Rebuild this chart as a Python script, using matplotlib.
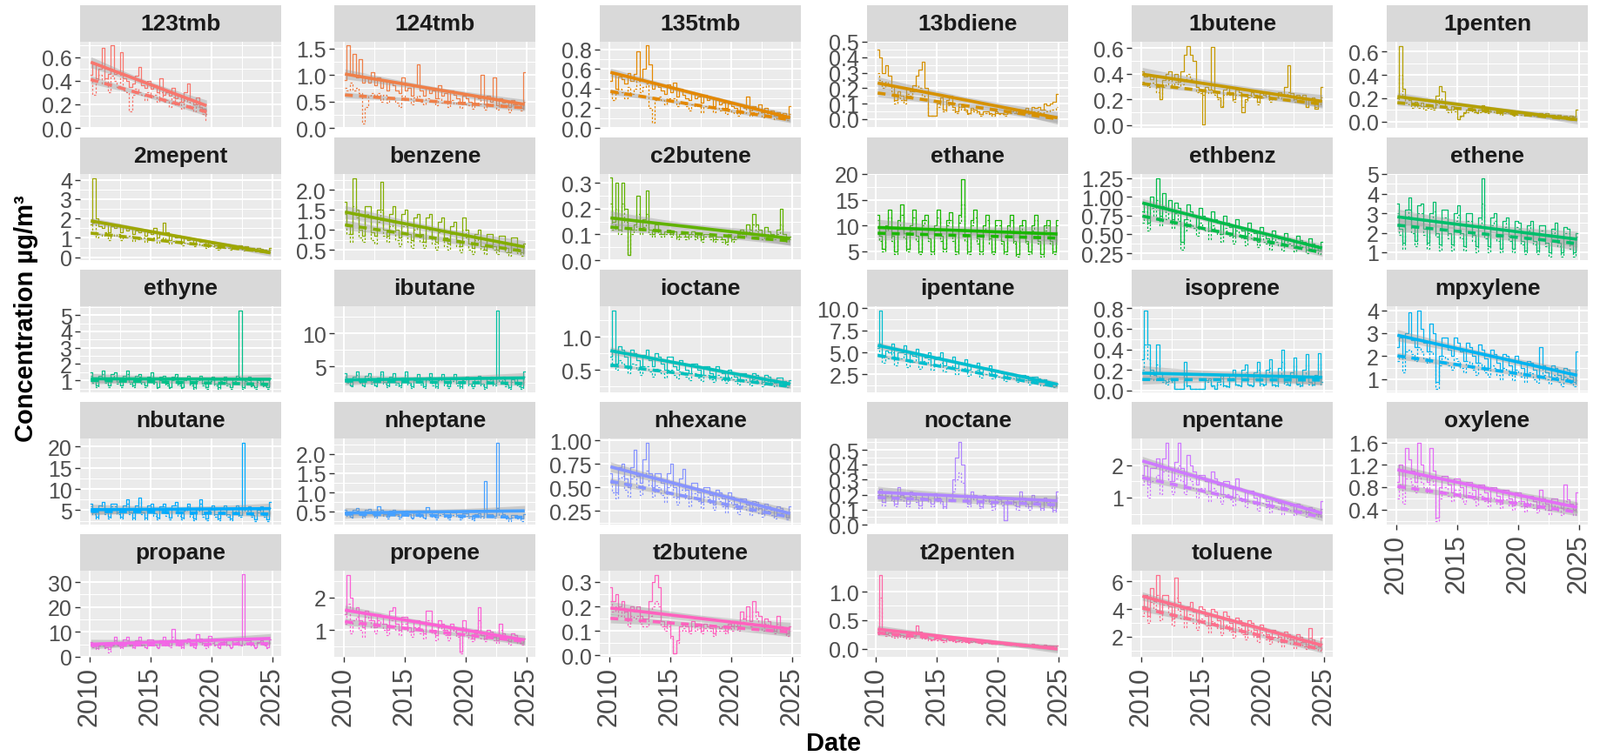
import numpy as np
import matplotlib
matplotlib.use("Agg")
import matplotlib.pyplot as plt

plt.rcParams['font.family'] = ['Liberation Sans', 'DejaVu Sans']

# quarterly values (solid = thin solid line, dashed = thin dashed line)
solid_123tmb = [0.45, 0.55, 0.42, 0.50, 0.68, 0.42, 0.46, 0.70, 0.46, 0.48, 0.64, 0.42, 0.40, 0.35, 0.38, 0.44, 0.52, 0.36, 0.34, 0.40,
                0.33, 0.36, 0.30, 0.42, 0.28, 0.30, 0.27, 0.34, 0.25, 0.28, 0.22, 0.30, 0.38, 0.24, 0.20, 0.26, 0.18, 0.16, 0.12]
dashed_123tmb = [0.42, 0.28, 0.40, 0.45, 0.38, 0.42, 0.30, 0.44, 0.40, 0.35, 0.45, 0.32, 0.30, 0.14, 0.28, 0.33, 0.30, 0.28, 0.24, 0.30,
                 0.26, 0.28, 0.22, 0.30, 0.22, 0.24, 0.18, 0.26, 0.20, 0.22, 0.16, 0.24, 0.22, 0.18, 0.14, 0.20, 0.15, 0.12, 0.07]

solid_124tmb = [0.90, 1.55, 1.00, 1.40, 0.95, 1.30, 0.85, 0.95, 0.85, 1.05, 0.80, 0.95, 0.75, 0.90, 0.70, 0.85, 0.80, 0.70, 0.65, 0.95,
                0.70, 0.75, 0.60, 0.80, 1.20, 0.70, 0.60, 0.75, 0.65, 0.70, 0.55, 0.80, 0.60, 0.65, 0.50, 0.70, 0.62, 0.55, 0.50, 0.60,
                0.55, 0.50, 0.45, 0.60, 0.55, 1.00, 0.45, 0.60, 0.50, 0.95, 0.42, 0.55, 0.48, 0.50, 0.40, 0.52, 0.45, 0.48, 0.38, 1.05]
dashed_124tmb = [0.75, 0.70, 0.85, 0.70, 0.75, 0.65, 0.08, 0.40, 0.60, 0.65, 0.60, 0.65, 0.50, 0.62, 0.48, 0.55, 0.55, 0.48, 0.40, 0.60,
                 0.52, 0.55, 0.45, 0.58, 0.60, 0.50, 0.44, 0.55, 0.50, 0.52, 0.42, 0.55, 0.48, 0.50, 0.40, 0.52, 0.46, 0.48, 0.38, 0.50,
                 0.45, 0.42, 0.36, 0.48, 0.44, 0.60, 0.35, 0.46, 0.42, 0.55, 0.34, 0.45, 0.40, 0.42, 0.30, 0.44, 0.38, 0.40, 0.32, 0.50]

solid_135tmb = [0.48, 0.55, 0.40, 0.52, 0.50, 0.45, 0.56, 0.48, 0.55, 0.78, 0.50, 0.60, 0.84, 0.65, 0.40, 0.45, 0.42, 0.38, 0.35, 0.44,
                0.36, 0.46, 0.32, 0.40, 0.34, 0.30, 0.28, 0.36, 0.30, 0.32, 0.26, 0.34, 0.28, 0.30, 0.22, 0.30, 0.24, 0.26, 0.20, 0.25,
                0.22, 0.20, 0.18, 0.24, 0.20, 0.32, 0.18, 0.22, 0.19, 0.24, 0.16, 0.20, 0.16, 0.18, 0.12, 0.16, 0.13, 0.15, 0.10, 0.22]
dashed_135tmb = [0.38, 0.28, 0.35, 0.40, 0.36, 0.30, 0.42, 0.35, 0.40, 0.48, 0.36, 0.42, 0.45, 0.20, 0.05, 0.28, 0.32, 0.28, 0.24, 0.30,
                 0.28, 0.30, 0.22, 0.26, 0.26, 0.22, 0.18, 0.24, 0.22, 0.24, 0.16, 0.22, 0.20, 0.22, 0.16, 0.20, 0.18, 0.20, 0.14, 0.18,
                 0.16, 0.15, 0.12, 0.18, 0.15, 0.20, 0.12, 0.16, 0.14, 0.16, 0.11, 0.15, 0.12, 0.14, 0.09, 0.12, 0.10, 0.11, 0.08, 0.14]

solid_13bdiene = [0.45, 0.40, 0.30, 0.35, 0.28, 0.22, 0.12, 0.18, 0.15, 0.12, 0.20, 0.18, 0.22, 0.28, 0.32, 0.37, 0.20, 0.02, 0.02, 0.02,
                  0.10, 0.14, 0.06, 0.12, 0.15, 0.08, 0.05, 0.10, 0.08, 0.06, 0.04, 0.07, 0.06, 0.05, 0.03, 0.05, 0.05, 0.04, 0.03, 0.05,
                  0.04, 0.04, 0.03, 0.05, 0.05, 0.06, 0.04, 0.06, 0.06, 0.07, 0.05, 0.08, 0.07, 0.08, 0.06, 0.10, 0.09, 0.10, 0.11, 0.16]
dashed_13bdiene = [0.30, 0.25, 0.20, 0.24, 0.22, 0.18, 0.10, 0.14, 0.12, 0.10, 0.16, 0.15, 0.18, 0.22, 0.20, 0.15, 0.12, 0.02, 0.02, 0.02,
                   0.08, 0.10, 0.05, 0.09, 0.10, 0.06, 0.04, 0.08, 0.06, 0.05, 0.03, 0.06, 0.05, 0.04, 0.02, 0.04, 0.04, 0.03, 0.02, 0.04,
                   0.03, 0.03, 0.02, 0.04, 0.04, 0.04, 0.03, 0.05, 0.04, 0.05, 0.03, 0.05, 0.05, 0.05, 0.04, 0.06, 0.05, 0.06, 0.06, 0.08]

solid_1butene = [0.42, 0.38, 0.40, 0.36, 0.38, 0.30, 0.20, 0.35, 0.40, 0.42, 0.36, 0.40, 0.34, 0.42, 0.55, 0.62, 0.55, 0.50, 0.30, 0.28,
                 0.01, 0.30, 0.28, 0.61, 0.26, 0.22, 0.14, 0.28, 0.30, 0.26, 0.20, 0.28, 0.26, 0.10, 0.20, 0.24, 0.26, 0.24, 0.18, 0.25,
                 0.24, 0.26, 0.20, 0.22, 0.22, 0.26, 0.24, 0.30, 0.47, 0.25, 0.20, 0.24, 0.22, 0.24, 0.14, 0.20, 0.22, 0.13, 0.18, 0.30]
dashed_1butene = [0.34, 0.32, 0.30, 0.33, 0.32, 0.26, 0.20, 0.30, 0.32, 0.35, 0.30, 0.34, 0.30, 0.32, 0.36, 0.40, 0.36, 0.34, 0.26, 0.25,
                  0.24, 0.26, 0.25, 0.28, 0.24, 0.20, 0.15, 0.24, 0.26, 0.24, 0.18, 0.24, 0.24, 0.14, 0.18, 0.22, 0.23, 0.22, 0.16, 0.22,
                  0.22, 0.23, 0.18, 0.20, 0.20, 0.22, 0.20, 0.24, 0.26, 0.22, 0.18, 0.21, 0.20, 0.21, 0.14, 0.18, 0.19, 0.14, 0.16, 0.22]

solid_1penten = [0.20, 0.65, 0.28, 0.20, 0.18, 0.15, 0.17, 0.14, 0.16, 0.13, 0.15, 0.14, 0.12, 0.22, 0.30, 0.26, 0.12, 0.10, 0.13, 0.11,
                 0.02, 0.05, 0.08, 0.10, 0.12, 0.10, 0.08, 0.10, 0.14, 0.10, 0.09, 0.11, 0.10, 0.08, 0.07, 0.09, 0.08, 0.09, 0.06, 0.08,
                 0.07, 0.08, 0.06, 0.07, 0.07, 0.06, 0.05, 0.07, 0.06, 0.07, 0.05, 0.06, 0.05, 0.06, 0.04, 0.05, 0.04, 0.05, 0.04, 0.10]
dashed_1penten = [0.17, 0.40, 0.22, 0.16, 0.15, 0.12, 0.14, 0.12, 0.13, 0.10, 0.12, 0.11, 0.10, 0.15, 0.20, 0.16, 0.10, 0.08, 0.10, 0.09,
                  0.02, 0.04, 0.07, 0.08, 0.10, 0.08, 0.07, 0.08, 0.11, 0.08, 0.07, 0.09, 0.08, 0.07, 0.06, 0.07, 0.07, 0.07, 0.05, 0.06,
                  0.06, 0.06, 0.05, 0.06, 0.06, 0.05, 0.04, 0.06, 0.05, 0.06, 0.04, 0.05, 0.04, 0.05, 0.03, 0.04, 0.03, 0.04, 0.03, 0.06]

solid_2mepent = [1.7, 4.1, 2.0, 1.6, 1.5, 1.8, 1.3, 1.6, 1.5, 1.7, 1.3, 1.6, 1.4, 1.5, 1.2, 1.4, 1.3, 1.4, 1.1, 1.3,
                 1.2, 1.5, 1.0, 1.2, 1.8, 1.3, 0.9, 1.1, 1.0, 1.1, 0.8, 1.0, 0.9, 0.95, 0.7, 0.9, 0.8, 0.85, 0.6, 0.8,
                 0.7, 0.6, 0.5, 0.7, 0.6, 0.65, 0.5, 0.6, 0.55, 0.6, 0.45, 0.55, 0.5, 0.5, 0.4, 0.5, 0.45, 0.4, 0.35, 0.5]
dashed_2mepent = [1.3, 1.8, 1.0, 1.2, 1.1, 1.3, 0.9, 1.2, 1.1, 1.2, 0.9, 1.1, 1.0, 1.1, 0.85, 1.0, 0.95, 1.0, 0.8, 0.95,
                  0.9, 1.0, 0.75, 0.9, 1.0, 0.9, 0.7, 0.85, 0.8, 0.85, 0.6, 0.75, 0.7, 0.75, 0.55, 0.7, 0.6, 0.65, 0.5, 0.6,
                  0.55, 0.5, 0.4, 0.55, 0.5, 0.5, 0.4, 0.5, 0.45, 0.5, 0.35, 0.45, 0.4, 0.4, 0.3, 0.4, 0.35, 0.35, 0.3, 0.4]

solid_benzene = [1.7, 1.1, 0.9, 2.3, 1.5, 1.0, 0.85, 1.6, 1.6, 0.95, 0.85, 1.5, 2.2, 1.0, 0.85, 1.4, 1.6, 1.0, 0.8, 1.4,
                 1.5, 0.9, 0.75, 1.3, 1.4, 0.9, 0.7, 1.3, 1.4, 0.8, 0.7, 1.2, 1.3, 0.8, 0.65, 1.1, 1.2, 0.75, 0.6, 1.3,
                 1.0, 0.65, 0.55, 0.9, 1.0, 0.6, 0.5, 0.9, 0.9, 0.6, 0.5, 0.85, 0.85, 0.55, 0.45, 0.8, 0.8, 0.5, 0.45, 0.65]
dashed_benzene = [1.4, 0.9, 0.7, 1.6, 1.3, 0.8, 0.7, 1.4, 1.3, 0.75, 0.65, 1.2, 1.5, 0.85, 0.7, 1.1, 1.2, 0.75, 0.6, 1.1,
                  1.1, 0.7, 0.55, 1.0, 1.1, 0.7, 0.55, 1.0, 1.0, 0.65, 0.5, 0.95, 1.0, 0.6, 0.5, 0.9, 0.95, 0.6, 0.45, 1.0,
                  0.8, 0.5, 0.4, 0.75, 0.8, 0.5, 0.4, 0.75, 0.75, 0.5, 0.4, 0.7, 0.7, 0.45, 0.35, 0.65, 0.65, 0.42, 0.35, 0.55]

solid_c2butene = [0.32, 0.15, 0.30, 0.12, 0.30, 0.20, 0.02, 0.12, 0.14, 0.25, 0.12, 0.16, 0.27, 0.12, 0.10, 0.14, 0.12, 0.10, 0.11, 0.12,
                  0.10, 0.11, 0.09, 0.10, 0.10, 0.09, 0.10, 0.11, 0.09, 0.10, 0.08, 0.10, 0.10, 0.09, 0.08, 0.09, 0.09, 0.08, 0.07, 0.10,
                  0.08, 0.09, 0.10, 0.12, 0.10, 0.14, 0.12, 0.18, 0.14, 0.12, 0.10, 0.13, 0.11, 0.10, 0.09, 0.12, 0.20, 0.10, 0.08, 0.09]
dashed_c2butene = [0.22, 0.12, 0.20, 0.10, 0.22, 0.15, 0.02, 0.10, 0.12, 0.18, 0.10, 0.13, 0.18, 0.10, 0.09, 0.12, 0.10, 0.09, 0.10, 0.10,
                   0.09, 0.10, 0.08, 0.09, 0.09, 0.08, 0.09, 0.10, 0.08, 0.09, 0.07, 0.09, 0.09, 0.08, 0.07, 0.08, 0.08, 0.07, 0.06, 0.09,
                   0.07, 0.08, 0.09, 0.10, 0.09, 0.11, 0.10, 0.14, 0.11, 0.10, 0.08, 0.10, 0.09, 0.08, 0.08, 0.10, 0.14, 0.08, 0.07, 0.08]

solid_ethane = [12, 8, 5.5, 10, 13, 8, 5, 11, 14, 8.5, 5.5, 10, 13, 8, 5, 11, 12, 7.5, 5, 10,
                13, 8, 5.5, 11, 12.5, 8, 5, 12, 19, 8, 5, 11, 13, 7.5, 5, 10, 12, 7.5, 5, 11,
                11, 7, 5, 10, 12, 7, 4.5, 10, 11, 7, 5, 10, 12, 7, 4.5, 10, 11, 7, 5, 11]
dashed_ethane = [11, 7, 5, 9, 11.5, 7, 4.5, 10, 12, 7.5, 5, 9, 11.5, 7, 4.5, 10, 11, 7, 4.5, 9,
                 11.5, 7, 5, 10, 11, 7, 4.5, 10.5, 14, 7, 4.5, 10, 11.5, 6.5, 4.5, 9, 11, 6.5, 4.5, 10,
                 10, 6.5, 4.5, 9, 11, 6.5, 4, 9, 10, 6.5, 4.5, 9, 11, 6.5, 4, 9, 10, 6.5, 4.5, 10]

solid_ethbenz = [0.80, 0.92, 0.65, 1.00, 0.88, 1.25, 0.75, 1.05, 0.85, 0.95, 0.70, 0.92, 0.85, 0.40, 0.70, 0.90, 0.80, 0.75, 0.60, 0.85,
                 0.75, 0.70, 0.55, 0.80, 0.70, 0.65, 0.50, 0.75, 0.65, 0.60, 0.48, 0.70, 0.60, 0.55, 0.45, 0.65, 0.55, 0.52, 0.40, 0.60,
                 0.50, 0.45, 0.38, 0.55, 0.48, 0.45, 0.35, 0.52, 0.45, 0.42, 0.33, 0.48, 0.42, 0.40, 0.30, 0.45, 0.38, 0.35, 0.28, 0.40]
dashed_ethbenz = [0.65, 0.80, 0.55, 0.85, 0.75, 0.95, 0.62, 0.88, 0.70, 0.82, 0.58, 0.78, 0.68, 0.30, 0.55, 0.70, 0.62, 0.58, 0.48, 0.66,
                  0.58, 0.55, 0.44, 0.62, 0.55, 0.50, 0.40, 0.58, 0.52, 0.48, 0.38, 0.55, 0.48, 0.45, 0.36, 0.52, 0.45, 0.42, 0.33, 0.48,
                  0.40, 0.38, 0.30, 0.45, 0.40, 0.36, 0.28, 0.42, 0.38, 0.35, 0.27, 0.40, 0.35, 0.33, 0.25, 0.37, 0.32, 0.30, 0.24, 0.34]

solid_ethene = [3.5, 2.2, 1.5, 3.2, 3.8, 2.3, 1.6, 3.4, 3.5, 2.2, 1.5, 3.0, 3.6, 2.0, 1.4, 3.2, 3.2, 2.0, 1.4, 3.0,
                3.4, 2.0, 1.3, 3.0, 3.0, 1.9, 1.3, 2.8, 4.8, 2.0, 1.3, 2.8, 3.0, 1.8, 1.2, 2.6, 2.8, 1.8, 1.2, 2.6,
                2.5, 1.6, 1.1, 2.4, 2.6, 1.6, 1.1, 2.4, 2.4, 1.5, 1.0, 2.2, 2.5, 1.5, 1.0, 2.3, 2.2, 1.4, 1.0, 2.0]
dashed_ethene = [3.0, 1.9, 1.2, 2.8, 3.2, 2.0, 1.3, 3.0, 3.0, 1.9, 1.2, 2.6, 3.1, 1.8, 1.1, 2.8, 2.8, 1.7, 1.1, 2.6,
                 2.9, 1.7, 1.1, 2.6, 2.6, 1.6, 1.0, 2.4, 3.5, 1.7, 1.0, 2.4, 2.6, 1.6, 1.0, 2.3, 2.5, 1.6, 1.0, 2.3,
                 2.2, 1.4, 0.9, 2.1, 2.3, 1.4, 0.9, 2.1, 2.1, 1.3, 0.8, 2.0, 2.2, 1.3, 0.8, 2.0, 2.0, 1.2, 0.8, 1.8]

solid_ethyne = [1.5, 1.0, 0.7, 1.3, 1.6, 1.0, 0.7, 1.4, 1.5, 0.9, 0.7, 1.3, 1.6, 0.9, 0.7, 1.3, 1.4, 0.9, 0.7, 1.2,
                1.5, 0.9, 0.6, 1.2, 1.3, 0.8, 0.6, 1.2, 1.4, 0.8, 0.6, 1.1, 1.3, 0.8, 0.6, 1.1, 1.3, 0.8, 0.6, 1.1,
                1.2, 0.8, 0.6, 1.1, 1.2, 0.8, 0.6, 1.1, 1.3, 5.3, 0.6, 1.1, 1.2, 0.7, 0.6, 1.0, 1.1, 0.7, 0.6, 1.1]
dashed_ethyne = [1.3, 0.85, 0.6, 1.1, 1.4, 0.85, 0.6, 1.2, 1.3, 0.8, 0.6, 1.1, 1.4, 0.8, 0.6, 1.1, 1.2, 0.8, 0.6, 1.0,
                 1.3, 0.8, 0.55, 1.0, 1.1, 0.7, 0.55, 1.0, 1.2, 0.7, 0.55, 1.0, 1.1, 0.7, 0.5, 0.95, 1.1, 0.7, 0.5, 0.95,
                 1.0, 0.7, 0.5, 0.95, 1.0, 0.7, 0.5, 0.95, 1.1, 1.2, 0.5, 0.95, 1.0, 0.65, 0.5, 0.9, 0.95, 0.65, 0.5, 0.95]

solid_ibutane = [4.0, 2.8, 2.2, 3.5, 4.2, 2.8, 2.2, 3.6, 4.0, 2.7, 2.2, 3.4, 4.3, 2.7, 2.1, 3.5, 4.0, 2.6, 2.1, 3.3,
                 4.2, 2.6, 2.0, 3.4, 3.8, 2.6, 2.0, 3.4, 4.0, 2.5, 2.0, 3.3, 3.8, 2.5, 2.0, 3.2, 3.8, 2.5, 2.0, 3.3,
                 3.5, 2.4, 2.0, 3.2, 3.6, 2.4, 1.9, 3.2, 3.5, 2.4, 13.5, 3.2, 3.5, 2.3, 1.9, 3.1, 3.4, 2.3, 1.9, 4.2]
dashed_ibutane = [3.5, 2.5, 2.0, 3.1, 3.7, 2.5, 2.0, 3.2, 3.5, 2.4, 2.0, 3.0, 3.8, 2.4, 1.9, 3.1, 3.5, 2.3, 1.9, 2.9,
                  3.7, 2.3, 1.8, 3.0, 3.4, 2.3, 1.8, 3.0, 3.5, 2.2, 1.8, 2.9, 3.4, 2.2, 1.8, 2.8, 3.4, 2.2, 1.8, 2.9,
                  3.1, 2.1, 1.8, 2.8, 3.2, 2.1, 1.7, 2.8, 3.1, 2.1, 3.5, 2.8, 3.1, 2.0, 1.7, 2.7, 3.0, 2.0, 1.7, 3.5]

solid_ioctane = [0.7, 1.4, 0.6, 0.85, 0.8, 0.7, 0.55, 0.8, 0.75, 0.65, 0.55, 0.72, 0.8, 0.65, 0.55, 0.75, 0.7, 0.6, 0.5, 0.7,
                 0.7, 0.55, 0.5, 0.65, 0.6, 0.5, 0.45, 0.6, 0.6, 0.5, 0.42, 0.55, 0.55, 0.45, 0.4, 0.55, 0.5, 0.45, 0.38, 0.5,
                 0.45, 0.4, 0.35, 0.45, 0.45, 0.4, 0.33, 0.45, 0.42, 0.38, 0.32, 0.42, 0.4, 0.35, 0.3, 0.38, 0.38, 0.33, 0.28, 0.35]
dashed_ioctane = [0.55, 0.8, 0.5, 0.65, 0.6, 0.55, 0.45, 0.6, 0.58, 0.5, 0.42, 0.55, 0.55, 0.48, 0.4, 0.52, 0.5, 0.45, 0.38, 0.5,
                  0.5, 0.42, 0.37, 0.48, 0.45, 0.4, 0.35, 0.45, 0.45, 0.38, 0.33, 0.42, 0.42, 0.36, 0.32, 0.42, 0.4, 0.35, 0.3, 0.4,
                  0.36, 0.33, 0.28, 0.36, 0.36, 0.32, 0.27, 0.36, 0.34, 0.3, 0.26, 0.34, 0.33, 0.29, 0.25, 0.32, 0.31, 0.28, 0.24, 0.3]

solid_ipentane = [5.5, 9.8, 4.5, 5.2, 5.0, 6.0, 4.2, 5.0, 5.0, 5.8, 4.0, 4.8, 4.6, 5.4, 3.8, 4.8, 4.4, 5.0, 3.6, 4.2,
                  4.5, 5.0, 3.5, 4.2, 4.0, 4.5, 3.2, 3.8, 3.8, 4.2, 3.0, 3.5, 3.5, 3.8, 2.7, 3.2, 3.2, 3.5, 2.5, 3.0,
                  2.8, 2.6, 2.2, 2.6, 2.6, 2.5, 2.0, 2.4, 2.4, 2.3, 1.8, 2.2, 2.2, 2.0, 1.6, 1.9, 1.6, 1.5, 1.2, 1.5]
dashed_ipentane = [4.8, 6.0, 3.8, 4.5, 4.3, 5.0, 3.5, 4.2, 4.3, 4.8, 3.3, 3.9, 3.9, 4.5, 3.1, 4.0, 3.7, 4.2, 3.0, 3.5,
                   3.5, 3.8, 2.8, 3.3, 3.1, 3.5, 2.5, 3.0, 3.0, 3.2, 2.3, 2.8, 2.8, 3.0, 2.1, 2.5, 2.5, 2.8, 2.0, 2.4,
                   2.2, 2.1, 1.7, 2.1, 2.1, 2.0, 1.6, 1.9, 1.9, 1.8, 1.4, 1.8, 1.7, 1.6, 1.3, 1.5, 1.5, 1.4, 1.1, 1.3]

solid_isoprene = [0.30, 0.78, 0.45, 0.20, 0.15, 0.45, 0.18, 0.10, 0.08, 0.12, 0.10, 0.02, 0.02, 0.02, 0.28, 0.05, 0.02, 0.02, 0.02, 0.02,
                  0.02, 0.10, 0.12, 0.05, 0.02, 0.08, 0.15, 0.05, 0.04, 0.15, 0.20, 0.06, 0.05, 0.20, 0.25, 0.06, 0.05, 0.18, 0.28, 0.07,
                  0.06, 0.20, 0.30, 0.06, 0.05, 0.22, 0.40, 0.08, 0.06, 0.18, 0.32, 0.07, 0.05, 0.20, 0.35, 0.08, 0.06, 0.15, 0.36, 0.08]
dashed_isoprene = [0.20, 0.45, 0.30, 0.12, 0.10, 0.25, 0.12, 0.08, 0.06, 0.09, 0.08, 0.02, 0.02, 0.02, 0.15, 0.04, 0.02, 0.02, 0.02, 0.02,
                   0.02, 0.08, 0.10, 0.04, 0.02, 0.06, 0.12, 0.04, 0.03, 0.10, 0.15, 0.05, 0.04, 0.14, 0.18, 0.05, 0.04, 0.12, 0.20, 0.05,
                   0.05, 0.14, 0.22, 0.05, 0.04, 0.15, 0.28, 0.06, 0.05, 0.13, 0.24, 0.06, 0.04, 0.14, 0.25, 0.06, 0.05, 0.11, 0.26, 0.06]

solid_mpxylene = [2.4, 2.8, 2.0, 3.0, 3.9, 2.7, 2.4, 4.0, 3.2, 2.6, 2.2, 3.4, 3.0, 0.9, 2.0, 2.8, 2.8, 2.3, 2.0, 2.8,
                  2.6, 2.2, 1.8, 2.6, 2.4, 2.0, 1.7, 2.5, 2.3, 1.9, 1.5, 2.3, 2.1, 1.7, 1.4, 2.1, 2.0, 1.6, 1.3, 2.0,
                  1.8, 1.5, 1.2, 1.8, 1.7, 1.4, 1.1, 2.4, 1.6, 1.3, 1.1, 1.6, 1.5, 1.2, 1.0, 1.5, 1.4, 1.1, 0.9, 2.2]
dashed_mpxylene = [1.8, 2.0, 1.3, 2.2, 2.3, 2.1, 1.8, 2.4, 2.2, 1.9, 1.7, 2.2, 2.1, 0.6, 1.6, 2.0, 1.9, 1.6, 1.4, 1.9,
                   1.8, 1.5, 1.3, 1.8, 1.7, 1.4, 1.2, 1.7, 1.6, 1.3, 1.1, 1.6, 1.5, 1.2, 1.0, 1.5, 1.4, 1.2, 0.95, 1.4,
                   1.3, 1.1, 0.9, 1.3, 1.25, 1.0, 0.85, 1.5, 1.2, 1.0, 0.8, 1.2, 1.1, 0.9, 0.7, 1.1, 1.05, 0.85, 0.7, 1.4]

solid_nbutane = [6.5, 4.5, 3.5, 6.0, 7.0, 4.5, 3.5, 6.5, 6.5, 4.5, 3.5, 6.0, 7.5, 4.5, 3.3, 6.0, 8.0, 4.5, 3.3, 6.0,
                 6.5, 4.2, 3.2, 5.8, 6.5, 4.2, 3.2, 6.0, 7.0, 4.2, 3.2, 5.5, 6.5, 4.0, 3.0, 5.5, 7.5, 4.0, 3.0, 5.5,
                 6.0, 4.0, 3.0, 5.2, 6.0, 4.0, 3.0, 5.2, 6.0, 3.8, 21.0, 5.5, 5.8, 3.8, 2.8, 5.0, 5.8, 3.8, 2.8, 7.0]
dashed_nbutane = [5.8, 4.0, 3.0, 5.3, 6.2, 4.0, 3.0, 5.8, 5.8, 4.0, 3.0, 5.3, 6.5, 4.0, 2.9, 5.3, 7.0, 4.0, 2.9, 5.3,
                  5.8, 3.7, 2.8, 5.1, 5.8, 3.7, 2.8, 5.3, 6.2, 3.7, 2.8, 4.9, 5.8, 3.5, 2.6, 4.9, 6.5, 3.5, 2.6, 4.9,
                  5.3, 3.5, 2.6, 4.6, 5.3, 3.5, 2.6, 4.6, 5.3, 3.4, 6.0, 4.9, 5.1, 3.4, 2.5, 4.4, 5.1, 3.4, 2.5, 5.5]

solid_nheptane = [0.55, 0.45, 0.38, 0.55, 0.60, 0.48, 0.40, 0.55, 0.58, 0.50, 0.40, 0.65, 0.55, 0.45, 0.38, 0.52, 0.55, 0.45, 0.38, 0.50,
                  0.52, 0.45, 0.36, 0.50, 0.52, 0.42, 0.36, 0.62, 0.50, 0.42, 0.35, 0.48, 0.50, 0.42, 0.35, 0.48, 0.48, 0.42, 0.34, 0.46,
                  0.46, 0.40, 0.33, 0.45, 0.46, 0.40, 1.30, 0.45, 0.45, 0.40, 2.30, 0.50, 0.44, 0.38, 0.32, 0.42, 0.42, 0.38, 0.32, 0.44]
dashed_nheptane = [0.48, 0.40, 0.34, 0.48, 0.52, 0.42, 0.35, 0.48, 0.50, 0.44, 0.35, 0.55, 0.48, 0.40, 0.33, 0.46, 0.48, 0.40, 0.33, 0.44,
                   0.46, 0.40, 0.32, 0.44, 0.46, 0.37, 0.32, 0.52, 0.44, 0.37, 0.31, 0.42, 0.44, 0.37, 0.31, 0.42, 0.42, 0.37, 0.30, 0.41,
                   0.40, 0.35, 0.28, 0.40, 0.40, 0.35, 0.50, 0.40, 0.40, 0.35, 0.60, 0.42, 0.38, 0.33, 0.27, 0.36, 0.37, 0.33, 0.27, 0.38]

solid_nhexane = [0.65, 0.55, 0.45, 0.72, 0.75, 0.60, 0.50, 0.72, 0.90, 0.62, 0.55, 0.80, 0.98, 0.65, 0.50, 0.65, 0.65, 0.55, 0.45, 0.65,
                 0.75, 0.50, 0.40, 0.60, 0.70, 0.48, 0.38, 0.55, 0.55, 0.45, 0.35, 0.50, 0.50, 0.42, 0.32, 0.48, 0.45, 0.38, 0.30, 0.45,
                 0.40, 0.33, 0.27, 0.38, 0.38, 0.32, 0.25, 0.36, 0.35, 0.28, 0.23, 0.33, 0.30, 0.26, 0.20, 0.30, 0.28, 0.24, 0.18, 0.30]
dashed_nhexane = [0.55, 0.45, 0.38, 0.60, 0.62, 0.48, 0.40, 0.60, 0.65, 0.50, 0.42, 0.62, 0.68, 0.52, 0.40, 0.52, 0.50, 0.42, 0.35, 0.50,
                  0.55, 0.40, 0.32, 0.48, 0.52, 0.38, 0.30, 0.44, 0.44, 0.36, 0.28, 0.40, 0.40, 0.34, 0.26, 0.38, 0.36, 0.30, 0.24, 0.36,
                  0.32, 0.27, 0.22, 0.31, 0.30, 0.26, 0.21, 0.29, 0.28, 0.23, 0.19, 0.27, 0.25, 0.21, 0.17, 0.25, 0.23, 0.20, 0.16, 0.24]

solid_noctane = [0.20, 0.24, 0.15, 0.22, 0.22, 0.18, 0.14, 0.25, 0.20, 0.18, 0.14, 0.22, 0.20, 0.17, 0.13, 0.20, 0.20, 0.17, 0.14, 0.21,
                 0.18, 0.16, 0.12, 0.20, 0.19, 0.30, 0.45, 0.55, 0.40, 0.20, 0.14, 0.22, 0.20, 0.16, 0.12, 0.20, 0.18, 0.16, 0.12, 0.19,
                 0.17, 0.15, 0.03, 0.18, 0.18, 0.15, 0.12, 0.22, 0.18, 0.14, 0.12, 0.20, 0.17, 0.14, 0.11, 0.18, 0.17, 0.13, 0.10, 0.22]
dashed_noctane = [0.18, 0.20, 0.13, 0.19, 0.19, 0.16, 0.12, 0.21, 0.17, 0.16, 0.12, 0.19, 0.17, 0.15, 0.11, 0.18, 0.17, 0.15, 0.12, 0.18,
                  0.16, 0.14, 0.11, 0.17, 0.16, 0.22, 0.30, 0.35, 0.28, 0.17, 0.12, 0.19, 0.17, 0.14, 0.11, 0.17, 0.16, 0.14, 0.10, 0.16,
                  0.15, 0.13, 0.03, 0.16, 0.15, 0.13, 0.10, 0.18, 0.15, 0.12, 0.10, 0.17, 0.15, 0.12, 0.10, 0.16, 0.14, 0.11, 0.09, 0.18]

solid_npentane = [1.7, 2.0, 1.4, 1.9, 1.9, 2.2, 1.5, 2.2, 2.7, 1.9, 1.5, 2.1, 2.7, 1.9, 1.4, 2.3, 2.0, 1.8, 1.4, 1.7,
                  1.7, 1.5, 1.2, 1.8, 1.6, 1.4, 1.1, 1.5, 1.5, 1.3, 1.0, 1.6, 1.3, 1.2, 0.9, 1.2, 1.2, 1.0, 0.8, 1.1,
                  1.0, 0.9, 0.75, 0.95, 0.9, 0.85, 0.7, 0.85, 0.85, 0.75, 0.6, 0.8, 0.75, 0.7, 0.55, 0.7, 0.65, 0.6, 0.5, 0.9]
dashed_npentane = [1.4, 1.6, 1.0, 1.5, 1.5, 1.7, 1.1, 1.8, 1.9, 1.5, 1.1, 1.6, 2.0, 1.5, 1.1, 1.7, 1.5, 1.3, 1.0, 1.3,
                   1.3, 1.1, 0.9, 1.3, 1.2, 1.0, 0.8, 1.1, 1.1, 0.95, 0.75, 1.1, 1.0, 0.9, 0.7, 0.9, 0.9, 0.8, 0.6, 0.85,
                   0.8, 0.7, 0.55, 0.75, 0.7, 0.65, 0.5, 0.7, 0.65, 0.6, 0.45, 0.6, 0.6, 0.55, 0.42, 0.55, 0.5, 0.48, 0.4, 0.65]

solid_oxylene = [0.9, 1.2, 0.8, 1.5, 1.3, 1.1, 0.9, 1.6, 1.2, 1.0, 0.9, 1.5, 1.1, 0.25, 0.8, 1.0, 1.0, 0.85, 0.7, 0.95,
                 0.95, 0.8, 0.65, 0.9, 0.9, 0.75, 0.6, 0.85, 0.85, 0.7, 0.55, 0.8, 0.8, 0.65, 0.5, 0.75, 0.75, 0.6, 0.48, 0.7,
                 0.7, 0.55, 0.45, 0.65, 0.65, 0.55, 0.42, 0.75, 0.6, 0.5, 0.4, 0.6, 0.6, 0.52, 0.42, 0.85, 0.58, 0.5, 0.4, 0.7]
dashed_oxylene = [0.6, 0.85, 0.5, 0.95, 0.95, 0.85, 0.7, 1.0, 0.9, 0.8, 0.7, 0.95, 0.85, 0.2, 0.6, 0.8, 0.8, 0.65, 0.55, 0.75,
                  0.75, 0.6, 0.5, 0.7, 0.7, 0.58, 0.48, 0.68, 0.65, 0.55, 0.45, 0.62, 0.6, 0.5, 0.42, 0.58, 0.58, 0.48, 0.4, 0.55,
                  0.55, 0.45, 0.36, 0.52, 0.5, 0.42, 0.35, 0.55, 0.48, 0.4, 0.32, 0.48, 0.45, 0.38, 0.3, 0.55, 0.42, 0.36, 0.3, 0.5]

solid_propane = [6.0, 4.5, 3.5, 5.5, 5.5, 4.0, 3.0, 5.0, 8.0, 5.0, 4.0, 7.0, 8.0, 5.0, 4.0, 6.5, 8.0, 5.0, 4.0, 7.0,
                 7.0, 5.0, 4.0, 6.5, 8.0, 5.5, 4.5, 11.0, 7.0, 5.0, 4.0, 6.5, 7.5, 5.0, 4.0, 9.0, 7.5, 5.5, 4.5, 8.5,
                 6.5, 5.0, 4.0, 6.0, 6.5, 5.0, 4.0, 7.5, 6.5, 5.0, 33.0, 6.5, 6.5, 5.0, 4.0, 6.0, 6.5, 5.0, 4.0, 7.0]
dashed_propane = [5.0, 4.0, 3.0, 4.5, 4.5, 3.5, 1.8, 4.5, 6.5, 4.5, 3.5, 6.0, 6.5, 4.5, 3.5, 5.5, 6.5, 4.5, 3.5, 6.0,
                  6.0, 4.5, 3.5, 5.5, 6.5, 4.5, 4.0, 8.0, 6.0, 4.5, 3.5, 5.5, 6.0, 4.5, 3.5, 7.0, 6.0, 4.5, 3.5, 7.0,
                  5.5, 4.5, 3.5, 5.5, 6.0, 4.5, 3.5, 6.5, 6.0, 4.5, 5.0, 5.5, 6.0, 4.5, 3.5, 5.5, 6.0, 4.5, 3.5, 6.0]

solid_propene = [1.5, 2.7, 2.0, 1.6, 1.7, 1.3, 1.1, 1.6, 1.5, 1.3, 1.1, 1.5, 1.4, 1.2, 1.0, 1.6, 1.7, 1.2, 1.0, 1.4,
                 1.4, 1.1, 0.95, 1.3, 1.3, 1.0, 0.9, 1.6, 1.6, 1.0, 0.85, 1.3, 1.2, 1.0, 0.85, 1.2, 1.1, 0.9, 0.35, 1.3,
                 1.0, 0.85, 0.75, 1.0, 1.7, 0.85, 0.75, 1.0, 0.95, 0.8, 0.7, 1.2, 0.9, 0.8, 0.65, 0.9, 0.85, 0.7, 0.6, 0.75]
dashed_propene = [1.2, 1.8, 0.9, 1.3, 1.4, 1.0, 0.8, 1.4, 1.3, 1.1, 0.9, 1.3, 1.2, 1.0, 0.85, 1.3, 1.4, 1.0, 0.85, 1.2,
                  1.2, 0.95, 0.8, 1.1, 1.1, 0.9, 0.75, 1.3, 1.3, 0.9, 0.7, 1.1, 1.0, 0.85, 0.7, 1.0, 0.95, 0.8, 0.3, 1.1,
                  0.85, 0.75, 0.65, 0.9, 1.3, 0.75, 0.65, 0.9, 0.85, 0.7, 0.6, 1.0, 0.8, 0.7, 0.55, 0.8, 0.75, 0.6, 0.55, 0.65]

solid_t2butene = [0.28, 0.22, 0.25, 0.20, 0.22, 0.18, 0.15, 0.20, 0.18, 0.20, 0.16, 0.15, 0.15, 0.22, 0.30, 0.33, 0.28, 0.14, 0.12, 0.14,
                  0.08, 0.01, 0.06, 0.12, 0.13, 0.12, 0.10, 0.14, 0.12, 0.13, 0.10, 0.13, 0.12, 0.11, 0.09, 0.12, 0.11, 0.12, 0.10, 0.13,
                  0.12, 0.14, 0.12, 0.18, 0.15, 0.20, 0.14, 0.22, 0.18, 0.16, 0.12, 0.15, 0.14, 0.12, 0.10, 0.16, 0.12, 0.11, 0.09, 0.12]
dashed_t2butene = [0.22, 0.18, 0.20, 0.16, 0.18, 0.15, 0.12, 0.16, 0.15, 0.16, 0.13, 0.12, 0.12, 0.16, 0.20, 0.22, 0.20, 0.12, 0.10, 0.12,
                   0.07, 0.01, 0.05, 0.10, 0.11, 0.10, 0.09, 0.12, 0.10, 0.11, 0.09, 0.11, 0.10, 0.10, 0.08, 0.10, 0.10, 0.10, 0.09, 0.11,
                   0.10, 0.12, 0.10, 0.15, 0.13, 0.16, 0.12, 0.18, 0.15, 0.13, 0.10, 0.13, 0.12, 0.10, 0.09, 0.13, 0.10, 0.10, 0.08, 0.10]

solid_t2penten = [0.30, 1.30, 0.35, 0.25, 0.28, 0.25, 0.22, 0.26, 0.24, 0.22, 0.20, 0.24, 0.22, 0.40, 0.30, 0.20, 0.20, 0.18, 0.16, 0.18,
                  0.18, 0.16, 0.14, 0.17, 0.16, 0.15, 0.13, 0.15, 0.14, 0.13, 0.11, 0.14, 0.13, 0.12, 0.10, 0.12, 0.11, 0.10, 0.09, 0.11,
                  0.10, 0.09, 0.08, 0.09, 0.09, 0.08, 0.07, 0.09, 0.08, 0.07, 0.06, 0.08, 0.07, 0.06, 0.05, 0.07, 0.06, 0.05, 0.05, 0.06]
dashed_t2penten = [0.25, 0.90, 0.28, 0.22, 0.24, 0.21, 0.19, 0.22, 0.21, 0.19, 0.17, 0.21, 0.19, 0.30, 0.24, 0.17, 0.17, 0.15, 0.14, 0.16,
                   0.15, 0.14, 0.12, 0.15, 0.14, 0.13, 0.11, 0.13, 0.12, 0.11, 0.10, 0.12, 0.11, 0.10, 0.09, 0.10, 0.10, 0.09, 0.08, 0.09,
                   0.09, 0.08, 0.07, 0.08, 0.08, 0.07, 0.06, 0.08, 0.07, 0.06, 0.05, 0.07, 0.06, 0.05, 0.05, 0.06, 0.05, 0.05, 0.04, 0.05]

solid_toluene = [4.2, 5.0, 3.5, 5.5, 4.6, 6.5, 3.8, 5.0, 5.0, 4.2, 3.3, 6.3, 4.5, 4.0, 3.3, 4.2, 4.5, 3.8, 3.2, 4.2,
                 4.0, 3.5, 2.8, 4.0, 3.8, 3.2, 2.6, 3.8, 3.5, 3.0, 2.4, 3.4, 3.2, 2.8, 2.2, 3.2, 3.0, 2.5, 2.0, 2.9,
                 2.6, 2.2, 1.8, 2.5, 2.4, 2.0, 1.6, 2.4, 2.2, 1.8, 1.5, 2.2, 2.0, 1.6, 1.3, 2.6, 1.8, 1.5, 1.3, 1.9]
dashed_toluene = [3.5, 4.2, 3.0, 4.5, 4.0, 5.0, 3.2, 4.3, 4.3, 3.6, 2.8, 4.8, 3.9, 3.3, 2.7, 3.6, 3.6, 3.0, 2.5, 3.3,
                  3.2, 2.8, 2.3, 3.1, 3.0, 2.6, 2.1, 2.9, 2.8, 2.4, 1.9, 2.7, 2.6, 2.2, 1.8, 2.5, 2.4, 2.0, 1.6, 2.3,
                  2.1, 1.8, 1.5, 2.0, 1.9, 1.6, 1.3, 1.9, 1.8, 1.5, 1.2, 1.8, 1.6, 1.3, 1.1, 1.9, 1.5, 1.2, 1.0, 1.5]

species = ["123tmb", "124tmb", "135tmb", "13bdiene", "1butene", "1penten",
           "2mepent", "benzene", "c2butene", "ethane", "ethbenz", "ethene",
           "ethyne", "ibutane", "ioctane", "ipentane", "isoprene", "mpxylene",
           "nbutane", "nheptane", "nhexane", "noctane", "npentane", "oxylene",
           "propane", "propene", "t2butene", "t2penten", "toluene"]

series = {
    "123tmb": (solid_123tmb, dashed_123tmb), "124tmb": (solid_124tmb, dashed_124tmb),
    "135tmb": (solid_135tmb, dashed_135tmb), "13bdiene": (solid_13bdiene, dashed_13bdiene),
    "1butene": (solid_1butene, dashed_1butene), "1penten": (solid_1penten, dashed_1penten),
    "2mepent": (solid_2mepent, dashed_2mepent), "benzene": (solid_benzene, dashed_benzene),
    "c2butene": (solid_c2butene, dashed_c2butene), "ethane": (solid_ethane, dashed_ethane),
    "ethbenz": (solid_ethbenz, dashed_ethbenz), "ethene": (solid_ethene, dashed_ethene),
    "ethyne": (solid_ethyne, dashed_ethyne), "ibutane": (solid_ibutane, dashed_ibutane),
    "ioctane": (solid_ioctane, dashed_ioctane), "ipentane": (solid_ipentane, dashed_ipentane),
    "isoprene": (solid_isoprene, dashed_isoprene), "mpxylene": (solid_mpxylene, dashed_mpxylene),
    "nbutane": (solid_nbutane, dashed_nbutane), "nheptane": (solid_nheptane, dashed_nheptane),
    "nhexane": (solid_nhexane, dashed_nhexane), "noctane": (solid_noctane, dashed_noctane),
    "npentane": (solid_npentane, dashed_npentane), "oxylene": (solid_oxylene, dashed_oxylene),
    "propane": (solid_propane, dashed_propane), "propene": (solid_propene, dashed_propene),
    "t2butene": (solid_t2butene, dashed_t2butene), "t2penten": (solid_t2penten, dashed_t2penten),
    "toluene": (solid_toluene, dashed_toluene),
}

yticks = {
    "123tmb": ["0.0", "0.2", "0.4", "0.6"], "124tmb": ["0.0", "0.5", "1.0", "1.5"],
    "135tmb": ["0.0", "0.2", "0.4", "0.6", "0.8"], "13bdiene": ["0.0", "0.1", "0.2", "0.3", "0.4", "0.5"],
    "1butene": ["0.0", "0.2", "0.4", "0.6"], "1penten": ["0.0", "0.2", "0.4", "0.6"],
    "2mepent": ["0", "1", "2", "3", "4"], "benzene": ["0.5", "1.0", "1.5", "2.0"],
    "c2butene": ["0.0", "0.1", "0.2", "0.3"], "ethane": ["5", "10", "15", "20"],
    "ethbenz": ["0.25", "0.50", "0.75", "1.00", "1.25"], "ethene": ["1", "2", "3", "4", "5"],
    "ethyne": ["1", "2", "3", "4", "5"], "ibutane": ["5", "10"],
    "ioctane": ["0.5", "1.0"], "ipentane": ["2.5", "5.0", "7.5", "10.0"],
    "isoprene": ["0.0", "0.2", "0.4", "0.6", "0.8"], "mpxylene": ["1", "2", "3", "4"],
    "nbutane": ["5", "10", "15", "20"], "nheptane": ["0.5", "1.0", "1.5", "2.0"],
    "nhexane": ["0.25", "0.50", "0.75", "1.00"], "noctane": ["0.0", "0.1", "0.2", "0.3", "0.4", "0.5"],
    "npentane": ["1", "2"], "oxylene": ["0.4", "0.8", "1.2", "1.6"],
    "propane": ["0", "10", "20", "30"], "propene": ["1", "2"],
    "t2butene": ["0.0", "0.1", "0.2", "0.3"], "t2penten": ["0.0", "0.5", "1.0"],
    "toluene": ["2", "4", "6"],
}

xtick_years = [2010, 2015, 2020, 2025]


def hue_colors(n, c=100.0, l=65.0):
    '''ggplot2 default hue palette (polar LUV -> sRGB).'''
    hues = np.linspace(15, 375, n + 1)[:n]
    xn, yn, zn = 95.047, 100.0, 108.883
    un = 4 * xn / (xn + 15 * yn + 3 * zn)
    vn = 9 * yn / (xn + 15 * yn + 3 * zn)
    out = []
    for h in hues:
        u = c * np.cos(np.radians(h))
        v = c * np.sin(np.radians(h))
        y = yn * ((l + 16) / 116) ** 3
        up = u / (13 * l) + un
        vp = v / (13 * l) + vn
        x = 9 * y * up / (4 * vp)
        z = -x / 3 - 5 * y + 3 * y / vp
        x, y, z = x / 100, y / 100, z / 100
        rgb = np.array([3.240479 * x - 1.537150 * y - 0.498535 * z,
                        -0.969256 * x + 1.875992 * y + 0.041556 * z,
                        0.055648 * x - 0.204043 * y + 1.057311 * z])
        rgb = np.where(rgb <= 0.0031308, 12.92 * rgb, 1.055 * np.abs(rgb) ** (1 / 2.4) - 0.055)
        out.append(tuple(np.clip(rgb, 0, 1)))
    return out


def lm_band(x, y):
    '''Linear fit with 95% confidence band, like geom_smooth(method = "lm").'''
    b, a = np.polyfit(x, y, 1)
    n = len(x)
    resid = y - (a + b * x)
    s = np.sqrt(np.sum(resid ** 2) / (n - 2))
    xs = np.linspace(x.min(), x.max(), 100)
    se = s * np.sqrt(1.0 / n + (xs - x.mean()) ** 2 / np.sum((x - x.mean()) ** 2))
    return xs, a + b * xs, 2.0 * se


W, H = 1838, 870
fig = plt.figure(figsize=(W / 100, H / 100), dpi=100)

col_left = [92, 384, 689, 996, 1300, 1593]
panel_w = 231
strip_h = 42
panel_h = 99
row_pitch = 152
top0 = 7

colors = hue_colors(len(species))

for k, name in enumerate(species):
    r, c = divmod(k, 6)
    left = col_left[c]
    strip_top = top0 + r * row_pitch
    panel_top = strip_top + strip_h

    sax = fig.add_axes([left / W, 1 - panel_top / H, panel_w / W, strip_h / H])
    sax.set_facecolor('#D9D9D9')
    sax.set_xticks([])
    sax.set_yticks([])
    for sp in sax.spines.values():
        sp.set_visible(False)
    sax.text(0.5, 0.5, name, ha='center', va='center', fontsize=19, fontweight='bold',
             color='#1A1A1A', transform=sax.transAxes)

    ax = fig.add_axes([left / W, 1 - (panel_top + panel_h) / H, panel_w / W, panel_h / H])
    ax.set_facecolor('#EBEBEB')
    for sp in ax.spines.values():
        sp.set_visible(False)

    col = colors[k]
    solid_vals, dashed_vals = series[name]
    allv = []
    fits = []
    for vals, ls in ((solid_vals, 'solid'), (dashed_vals, 'dashed')):
        y = np.array(vals, dtype=float)
        t = 2010.125 + 0.25 * np.arange(len(y))
        if ls == 'solid':
            ax.plot(t, y, color=col, lw=0.9, drawstyle='steps-mid', zorder=2)
        else:
            ax.plot(t, y, color=col, lw=0.9, drawstyle='steps-mid', zorder=2,
                    linestyle=(0, (2.0, 1.6)))
        xs, fit, band = lm_band(t, y)
        fits.append((xs, fit, band, ls))
        allv.extend([y.min(), y.max(), (fit - band).min(), (fit + band).max()])

    for xs, fit, band, ls in fits[::-1]:
        ax.fill_between(xs, fit - band, fit + band, color='#999999', alpha=0.4, lw=0, zorder=3)
        if ls == 'solid':
            ax.plot(xs, fit, color=col, lw=2.6, zorder=4, solid_capstyle='butt')
        else:
            ax.plot(xs, fit, color=col, lw=2.6, zorder=4, linestyle=(0, (2.5, 2.0)))

    lo, hi = min(allv), max(allv)
    pad = 0.05 * (hi - lo)
    ax.set_ylim(lo - pad, hi + pad)
    ax.set_xlim(2009.25, 2025.75)

    labels = yticks[name]
    pos = [float(s) for s in labels]
    ax.set_yticks(pos)
    ax.set_yticklabels(labels)
    step = pos[1] - pos[0]
    ext = [pos[0] - step] + pos + [pos[-1] + step]
    ymin_l, ymax_l = ax.get_ylim()
    minors = [(a + b) / 2 for a, b in zip(ext[:-1], ext[1:]) if ymin_l <= (a + b) / 2 <= ymax_l]
    ax.set_yticks(minors, minor=True)
    ax.set_ylim(ymin_l, ymax_l)

    ax.set_xticks(xtick_years)
    ax.set_xticks([2012.5, 2017.5, 2022.5], minor=True)

    ax.grid(which='major', color='white', lw=1.5)
    ax.grid(which='minor', color='white', lw=0.75)
    ax.set_axisbelow(True)

    ax.tick_params(axis='both', which='minor', length=0)
    ax.tick_params(axis='y', which='major', length=4.5, width=1.0, color='#333333',
                   labelsize=18, labelcolor='#4D4D4D', pad=2)
    bottom = (r == 4) or (r == 3 and c == 5)
    if bottom:
        ax.set_xticklabels([str(v) for v in xtick_years])
        ax.tick_params(axis='x', which='major', length=4.5, width=1.0, color='#333333',
                       labelsize=22, labelcolor='#4D4D4D', labelrotation=90, pad=3)
    else:
        ax.tick_params(axis='x', which='major', length=0, labelbottom=False)

fig.text(30 / W, 1 - 366 / H, 'Concentration µg/m³', rotation=90, ha='center', va='center',
         fontsize=21, fontweight='bold', color='black')
fig.text(958 / W, 1 - 855 / H, 'Date', ha='center', va='center',
         fontsize=21, fontweight='bold', color='black')

fig.savefig('out.png', dpi=100, facecolor='white')
